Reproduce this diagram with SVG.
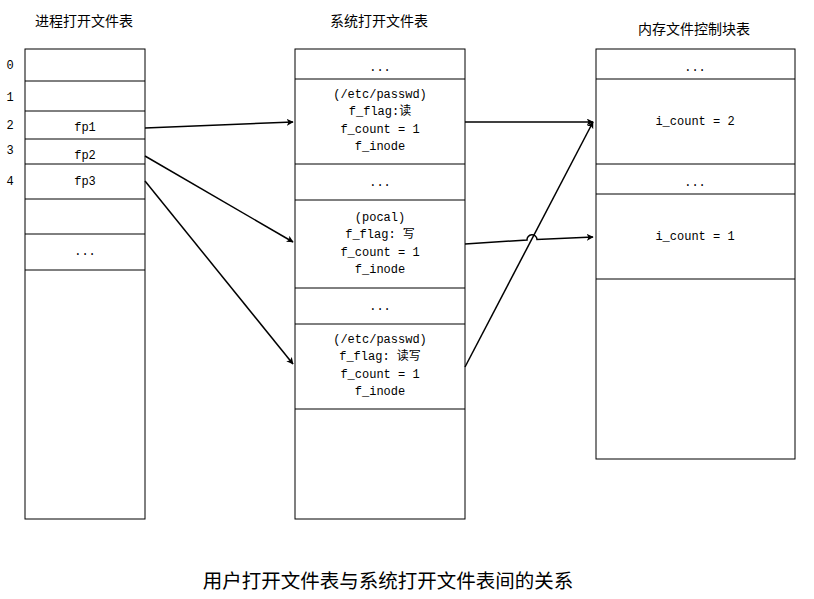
<svg xmlns="http://www.w3.org/2000/svg" width="814" height="599" viewBox="0 0 814 599">
<style>
.box{fill:#fff;stroke:#000;stroke-width:1}
.ln{stroke:#000;stroke-width:1}
.t{font-family:"Liberation Mono","Noto Sans CJK SC",monospace;font-size:12px;fill:#000;text-anchor:middle;dominant-baseline:central}
.h{font-family:"Noto Sans CJK SC",sans-serif;font-size:14px;fill:#000;dominant-baseline:central}
.c{stroke:#000;stroke-width:1.5;fill:none;marker-end:url(#ah)}
</style>
<defs>
<marker id="ah" viewBox="0 0 10 10" refX="9" refY="5" markerWidth="7" markerHeight="7" markerUnits="userSpaceOnUse" orient="auto">
<path d="M0,0 L10,5 L0,10 L2.5,5 Z" fill="#000"/>
</marker>
</defs>
<rect width="814" height="599" fill="#fff"/>
<text class="h" x="35" y="20">进程打开文件表</text>
<text class="h" x="330" y="20">系统打开文件表</text>
<text class="h" x="638" y="28">内存文件控制块表</text>
<g id="proc-table">
<rect class="box" x="25" y="49" width="120" height="470"/>
<line class="ln" x1="25" y1="81" x2="145" y2="81"/>
<line class="ln" x1="25" y1="111" x2="145" y2="111"/>
<line class="ln" x1="25" y1="139" x2="145" y2="139"/>
<line class="ln" x1="25" y1="164" x2="145" y2="164"/>
<line class="ln" x1="25" y1="199" x2="145" y2="199"/>
<line class="ln" x1="25" y1="234" x2="145" y2="234"/>
<line class="ln" x1="25" y1="270" x2="145" y2="270"/>
<text class="t" x="10" y="66" fill="#000">0</text>
<text class="t" x="10" y="98">1</text>
<text class="t" x="10" y="126">2</text>
<text class="t" x="10" y="151">3</text>
<text class="t" x="10" y="182">4</text>
<text class="t" x="85" y="128">fp1</text>
<text class="t" x="85" y="156">fp2</text>
<text class="t" x="85" y="182">fp3</text>
<text class="t" x="85" y="252">...</text>
</g>
<g id="sys-table">
<rect class="box" x="295" y="49" width="170" height="470"/>
<line class="ln" x1="295" y1="79" x2="465" y2="79"/>
<line class="ln" x1="295" y1="164" x2="465" y2="164"/>
<line class="ln" x1="295" y1="200" x2="465" y2="200"/>
<line class="ln" x1="295" y1="288" x2="465" y2="288"/>
<line class="ln" x1="295" y1="324" x2="465" y2="324"/>
<line class="ln" x1="295" y1="409" x2="465" y2="409"/>
<text class="t" x="380" y="68">...</text>
<text class="t" x="380" y="95">(/etc/passwd)</text>
<text class="t" x="380" y="112">f_flag:读</text>
<text class="t" x="380" y="130">f_count = 1</text>
<text class="t" x="380" y="147">f_inode</text>
<text class="t" x="380" y="183">...</text>
<text class="t" x="380" y="218">(pocal)</text>
<text class="t" x="380" y="235">f_flag: 写</text>
<text class="t" x="380" y="253">f_count = 1</text>
<text class="t" x="380" y="270">f_inode</text>
<text class="t" x="380" y="307">...</text>
<text class="t" x="380" y="340">(/etc/passwd)</text>
<text class="t" x="380" y="357">f_flag: 读写</text>
<text class="t" x="380" y="375">f_count = 1</text>
<text class="t" x="380" y="392">f_inode</text>
</g>
<g id="inode-table">
<rect class="box" x="596" y="49" width="199" height="410"/>
<line class="ln" x1="596" y1="79" x2="795" y2="79"/>
<line class="ln" x1="596" y1="164" x2="795" y2="164"/>
<line class="ln" x1="596" y1="194" x2="795" y2="194"/>
<line class="ln" x1="596" y1="279" x2="795" y2="279"/>
<text class="t" x="695" y="68">...</text>
<text class="t" x="695" y="122">i_count = 2</text>
<text class="t" x="695" y="183">...</text>
<text class="t" x="695" y="237">i_count = 1</text>
</g>
<g id="connectors">
<path class="c" d="M145,128 L293,122"/>
<path class="c" d="M145,156 L293,242"/>
<path class="c" d="M145,181 L293,364"/>
<path class="c" d="M465,122 L593,122"/>
<path class="c" d="M465,244 L527,240 A5,5 0 0 1 537,239.4 L593,237"/>
<path class="c" d="M465,367 L593,122"/>
</g>
<text x="388" y="579" style="font-family:'Noto Sans CJK SC',sans-serif;font-size:19.5px;text-anchor:middle;dominant-baseline:central">用户打开文件表与系统打开文件表间的关系</text>
</svg>
